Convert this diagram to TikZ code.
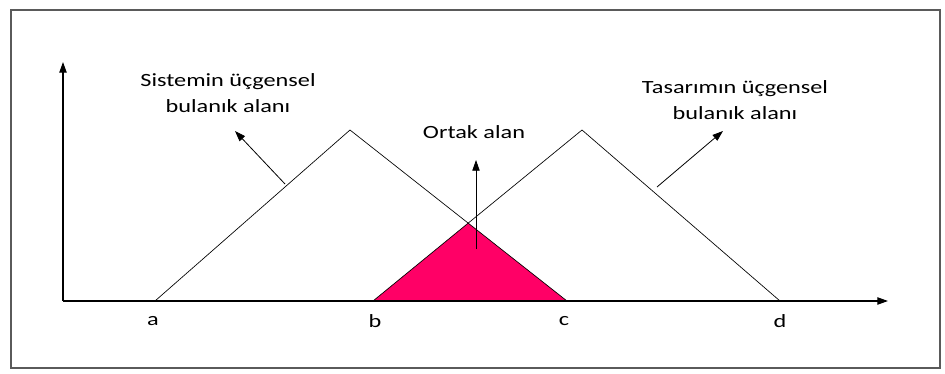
\documentclass[tikz,border=0pt]{standalone}
\usepackage{fontspec}
\setmainfont{Carlito}
\newfontfamily\lblfont[FakeStretch=1.3]{Carlito}
\usetikzlibrary{arrows.meta}
\definecolor{ortakpink}{RGB}{255,0,102}
\definecolor{framegray}{RGB}{90,90,90}

\begin{document}
\begin{tikzpicture}[x=0.75pt, y=-0.75pt,
    lbl/.style={font=\lblfont\fontsize{14}{19.5}\selectfont, align=center, inner sep=1pt},
    pointer/.style={-{Triangle[length=8pt, width=5.5pt]}, line width=0.6pt},
    axis/.style={-{Triangle[length=8pt, width=5.5pt]}, line width=0.9pt},
    tri/.style={line width=0.5pt}]
  \useasboundingbox (0,0) rectangle (945,374);
  \draw[framegray, line width=0.8pt] (11,10) rectangle (940,368);
  % ---------- points ----------
  \coordinate (O) at (63,301);
  \coordinate (ytop) at (63,62);
  \coordinate (xend) at (888,301);
  \coordinate (a) at (155,301);
  \coordinate (b) at (373,301);
  \coordinate (c) at (567,301);
  \coordinate (d) at (780,301);
  \coordinate (peakS) at (350,130);
  \coordinate (peakT) at (582,130);
  % ---------- common area ----------
  \begin{scope}
    \clip (a) -- (peakS) -- (c) -- cycle;
    \fill[ortakpink] (b) -- (peakT) -- (d) -- cycle;
  \end{scope}
  % ---------- triangles ----------
  \draw[tri] (a) -- (peakS) -- (c);
  \draw[tri] (b) -- (peakT) -- (d);
  % ---------- axes ----------
  \draw[axis] (O) -- (ytop);
  \draw[axis] (O) -- (xend);
  \node[lbl] (la) at (153,321) {a};
  \node[lbl] (lb) at (375,321) {b};
  \node[lbl] (lc) at (564,321) {c};
  \node[lbl] (ld) at (780,321) {d};
  % ---------- labels ----------
  \node[lbl] (sis) at (228,93) {Sistemin üçgensel\\bulanık alanı};
  \node[lbl] (ortak) at (474,132) {Ortak alan};
  \node[lbl] (tas) at (735,100) {Tasarımın üçgensel\\bulanık alanı};
  \coordinate (sisFoot) at (285,184);
  \coordinate (sisTip) at (235,131);
  \coordinate (ortakFoot) at (476,249);
  \coordinate (ortakTip) at (476,160);
  \coordinate (tasFoot) at (657,187);
  \coordinate (tasTip) at (723,131);
  \draw[pointer] (sisFoot) -- (sisTip);
  \draw[pointer] (ortakFoot) -- (ortakTip);
  \draw[pointer] (tasFoot) -- (tasTip);
\end{tikzpicture}
\end{document}
